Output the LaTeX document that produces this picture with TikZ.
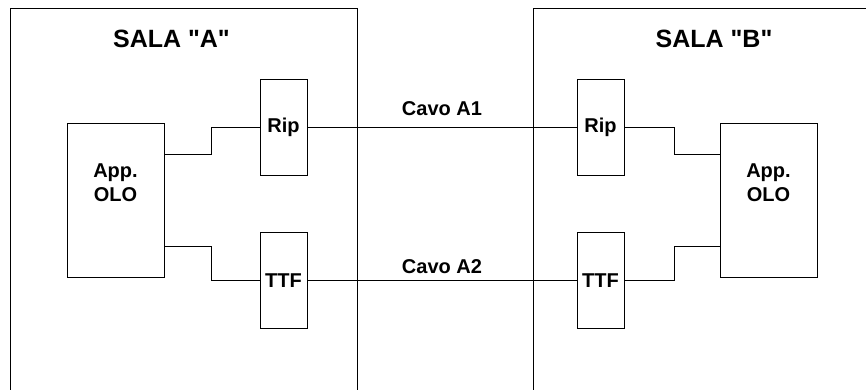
\documentclass[tikz,border=0pt]{standalone}
\usepackage{fontspec}
\setmainfont{Liberation Sans}[Ligatures=TeXOff]
\begin{document}
\begin{tikzpicture}[x=1pt,y=-1pt,
  line width=1pt,
  room/.style={draw, rectangle, inner sep=0pt, outer sep=0pt},
  box/.style={draw, rectangle, inner sep=0pt, outer sep=0pt, fill=white,
    font=\bfseries\fontsize{20}{24}\selectfont},
  txt/.style={font=\bfseries\fontsize{20}{24}\selectfont, align=center, inner sep=0pt},
  title/.style={font=\bfseries\fontsize{25}{30}\selectfont, inner sep=0pt}]
\useasboundingbox (0,0) rectangle (866,389);
\clip (0,0) rectangle (866,389);
% rooms
\node[room, minimum width=347pt, minimum height=392pt] (roomA) at (183.5,204) {};
\node[room, minimum width=367pt, minimum height=392pt] (roomB) at (716.5,204) {};
\node[title] (titleA) at (171.5,39) {SALA "A"};
\node[title] (titleB) at (714,39) {SALA "B"};
% equipment
\node[box, minimum width=97pt, minimum height=154pt] (appA) at (115.5,200) {};
\node[txt] (appAt) at (115.5,183) {App.\\OLO};
\node[box, minimum width=97pt, minimum height=154pt] (appB) at (768.5,200) {};
\node[txt] (appBt) at (768.5,183) {App.\\OLO};
\node[box, minimum width=47pt, minimum height=96pt] (ripA) at (283.5,127) {Rip};
\node[box, minimum width=47pt, minimum height=96pt] (ttfA) at (283.5,280.5) {TTF};
\node[box, minimum width=47pt, minimum height=96pt] (ripB) at (600.5,127) {Rip};
\node[box, minimum width=47pt, minimum height=96pt] (ttfB) at (600.5,280.5) {TTF};
% connectors
\draw (appA.north east) ++(0,31) -- ++(47,0) |- (ripA.west);
\draw (appA.south east) ++(0,-31) -- ++(47,0) |- (ttfA.west);
\draw (appB.north west) ++(0,31) -- ++(-46,0) |- (ripB.east);
\draw (appB.south west) ++(0,-31) -- ++(-46,0) |- (ttfB.east);
\draw (ripA.east) -- node[txt, midway, yshift=18pt] (cavo1) {Cavo A1} (ripB.west);
\draw (ttfA.east) -- node[txt, midway, yshift=14pt] (cavo2) {Cavo A2} (ttfB.west);
\end{tikzpicture}
\end{document}
